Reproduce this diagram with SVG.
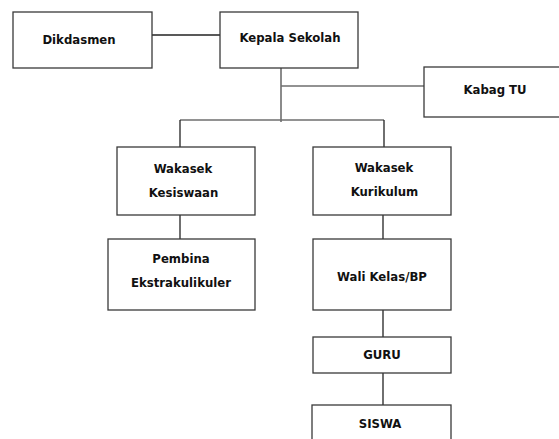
<svg xmlns="http://www.w3.org/2000/svg" width="559" height="439" viewBox="0 0 559 439">
  <style>
    .box { fill: #ffffff; stroke: #3a3a3a; stroke-width: 1.3; }
    .lbl { font-family: "DejaVu Sans Condensed", "DejaVu Sans", sans-serif; font-stretch: condensed; font-weight: bold; font-size: 13px; fill: #111111; text-anchor: middle; }
    .link { fill: none; stroke: #222222; stroke-width: 1.3; }
    .trunk { fill: none; stroke: #6e6e6e; stroke-width: 1.6; }
  </style>
  <rect width="559" height="439" fill="#ffffff"/>

  <!-- connectors -->
  <g id="connectors">
    <line class="link" x1="152" y1="35" x2="220" y2="35"/>
    <line class="trunk" x1="281" y1="68" x2="281" y2="122"/>
    <line class="trunk" x1="281" y1="86" x2="424" y2="86"/>
    <line class="trunk" x1="180" y1="120" x2="384" y2="120"/>
    <line class="link" x1="180" y1="120" x2="180" y2="147"/>
    <line class="link" x1="384" y1="120" x2="384" y2="147"/>
    <line class="link" x1="180" y1="215" x2="180" y2="239"/>
    <line class="link" x1="383" y1="215" x2="383" y2="239"/>
    <line class="link" x1="383" y1="310" x2="383" y2="337"/>
    <line class="link" x1="383" y1="373" x2="383" y2="405"/>
  </g>

  <g id="dikdasmen">
    <rect class="box" x="13" y="12" width="139" height="56"/>
    <text class="lbl" x="79" y="44">Dikdasmen</text>
  </g>

  <g id="kepala-sekolah">
    <rect class="box" x="220" y="12" width="138" height="56"/>
    <text class="lbl" x="290" y="42">Kepala Sekolah</text>
  </g>

  <g id="kabag-tu">
    <rect class="box" x="424" y="67" width="140" height="50"/>
    <text class="lbl" x="495" y="94">Kabag TU</text>
  </g>

  <g id="wakasek-kesiswaan">
    <rect class="box" x="117" y="147" width="138" height="68"/>
    <text class="lbl" x="183" y="173">Wakasek</text>
    <text class="lbl" x="183.5" y="197">Kesiswaan</text>
  </g>

  <g id="wakasek-kurikulum">
    <rect class="box" x="313" y="147" width="138" height="68"/>
    <text class="lbl" x="384" y="172">Wakasek</text>
    <text class="lbl" x="384.5" y="196">Kurikulum</text>
  </g>

  <g id="pembina-ekstrakulikuler">
    <rect class="box" x="108" y="239" width="147" height="71"/>
    <text class="lbl" x="181" y="263">Pembina</text>
    <text class="lbl" x="181" y="287">Ekstrakulikuler</text>
  </g>

  <g id="wali-kelas">
    <rect class="box" x="313" y="239" width="138" height="71"/>
    <text class="lbl" x="382" y="281">Wali Kelas/BP</text>
  </g>

  <g id="guru">
    <rect class="box" x="313" y="337" width="138" height="36"/>
    <text class="lbl" x="382" y="359">GURU</text>
  </g>

  <g id="siswa">
    <rect class="box" x="312" y="405" width="139" height="40"/>
    <text class="lbl" x="380" y="428">SISWA</text>
  </g>
</svg>
